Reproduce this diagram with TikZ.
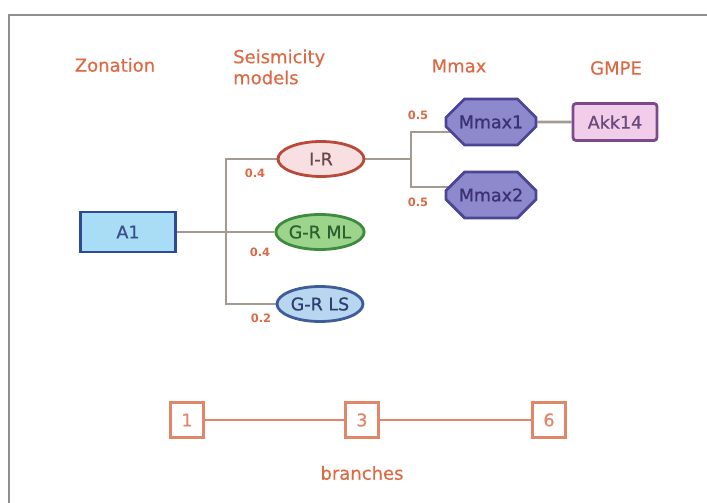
\documentclass[tikz,border=0pt]{standalone}
\usepackage{fontspec}
\setmainfont{DejaVu Sans}
\newfontfamily\medfont[FakeBold=0.9]{DejaVu Sans}
\newfontfamily\hdrfont[FakeBold=0.5]{DejaVu Sans}
\usetikzlibrary{shapes.geometric,shapes.misc,backgrounds}
\definecolor{hdr}{HTML}{DC6A45}
\definecolor{salm}{HTML}{E2866A}
\definecolor{conn}{HTML}{A39A92}
\definecolor{framec}{HTML}{8F8F8F}
\definecolor{mmaxf}{HTML}{8E88CC}
\definecolor{mmaxd}{HTML}{4C4494}
\definecolor{mmaxt}{HTML}{3A3272}
\tikzset{
  hdrtext/.style={text=hdr, font=\hdrfont\fontsize{18}{21}\selectfont, inner sep=0pt},
  wtext/.style={text=hdr, font=\fontsize{11.5}{13}\selectfont\bfseries, inner sep=0pt},
  link/.style={draw=conn, line width=2.6pt},
  zonebox/.style={rectangle, line width=2.8pt, minimum width=95pt, minimum height=40pt, inner sep=0pt},
  seisell/.style={ellipse, line width=2.8pt, minimum width=86pt, minimum height=35pt, inner sep=0pt},
  mmaxoct/.style={chamfered rectangle, chamfered rectangle xsep=14pt, chamfered rectangle ysep=12pt,
     draw=mmaxd, fill=mmaxf, line width=2.8pt, minimum width=90pt, minimum height=46pt, inner sep=0pt, text=mmaxt},
  brsq/.style={rectangle, draw=salm, line width=2.2pt, minimum width=33pt, minimum height=35pt, inner sep=0pt, text=salm},
}
\begin{document}
\begin{tikzpicture}[x=1pt,y=-1pt,font=\medfont\fontsize{17.5}{20}\selectfont]
\useasboundingbox (0,0) rectangle (707,503);
\draw[framec, line width=2.6pt] (9,503) -- (9,15) -- (707,15);

% headers
\node[hdrtext] (zon) at (115,65) {Zonation};
\node[hdrtext, anchor=west, align=left] (seis) at (233,67) {Seismicity\\models};
\node[hdrtext] (mmaxh) at (459,66) {Mmax};
\node[hdrtext] (gmpe) at (616,68) {GMPE};

% nodes
\node[zonebox, draw={rgb,255:red,46;green,74;blue,148}, fill={rgb,255:red,168;green,221;blue,245}, text={rgb,255:red,58;green,78;blue,140}] (A1) at (128,232) {A1};
\node[seisell, draw={rgb,255:red,184;green,74;blue,58}, fill={rgb,255:red,248;green,224;blue,226}, text={rgb,255:red,106;green,72;blue,72}] (IR) at (321,159) {I-R};
\node[seisell, draw={rgb,255:red,62;green,138;blue,62}, fill={rgb,255:red,156;green,212;blue,140}, text={rgb,255:red,47;green,94;blue,47}] (GRML) at (320,232) {G-R ML};
\node[seisell, draw={rgb,255:red,62;green,92;blue,156}, fill={rgb,255:red,184;green,214;blue,240}, text={rgb,255:red,46;green,63;blue,110}] (GRLS) at (320,304) {G-R LS};
\node[mmaxoct] (M1) at (491,122) {Mmax1};
\node[mmaxoct] (M2) at (491,195) {Mmax2};
\node[rectangle, rounded corners=3pt, draw={rgb,255:red,122;green,74;blue,138}, fill={rgb,255:red,242;green,205;blue,234}, text={rgb,255:red,106;green,74;blue,122}, line width=2.8pt, minimum width=84pt, minimum height=37pt, inner sep=0pt] (Akk) at (615,122) {Akk14};

% connectors
\coordinate (bx) at (226,0);
\coordinate (mx) at (411,0);
\coordinate (m1) at ([yshift=-10pt]M1.center);
\coordinate (m2) at ([yshift=8pt]M2.center);
\begin{scope}[on background layer]
\draw[link] (A1.east) -- (GRML.west);
\draw[link] (IR.west) -- (IR.west -| bx) -- (GRLS.west -| bx) -- (GRLS.west);
\draw[link] (IR.east) -- (IR.east -| mx);
\draw[link] (m1) -- (m1 -| mx) -- (m2 -| mx) -- (m2);
\draw[link] (M1) -- (Akk);
\end{scope}

% weights
\node[wtext] (w1) at (255,173) {0.4};
\node[wtext] (w2) at (260,252) {0.4};
\node[wtext] (w3) at (261,318) {0.2};
\node[wtext] (w4) at (418,115) {0.5};
\node[wtext] (w5) at (418,202) {0.5};

% branches
\node[brsq] (b1) at (187,420) {1};
\node[brsq] (b3) at (362,420) {3};
\node[brsq] (b6) at (549,420) {6};
\draw[salm, line width=2.6pt] (b1) -- (b3) -- (b6);
\node[hdrtext] (br) at (362,473) {branches};
\end{tikzpicture}
\end{document}
